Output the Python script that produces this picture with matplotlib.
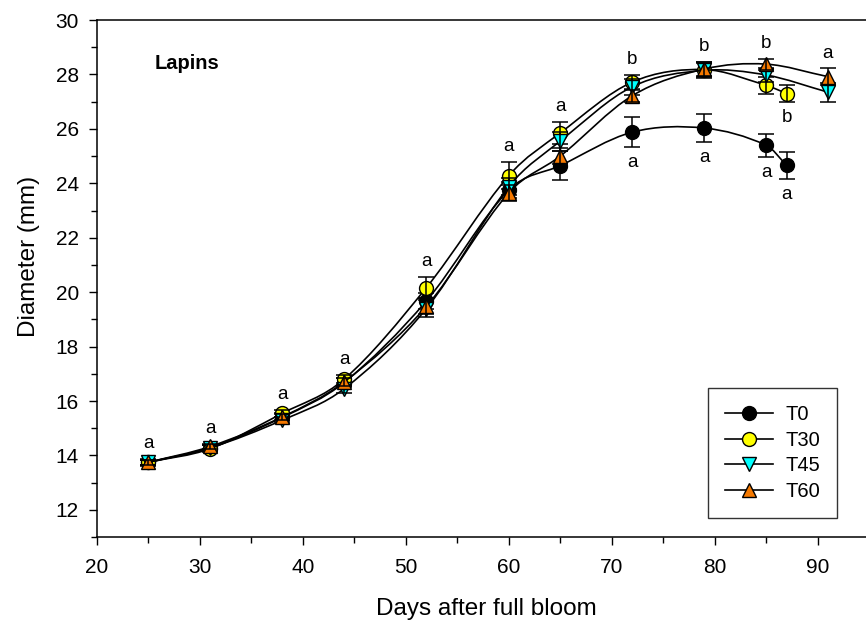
import matplotlib
matplotlib.use("Agg")
import matplotlib.pyplot as plt
from matplotlib.path import Path
from matplotlib.patches import PathPatch
from matplotlib.ticker import MultipleLocator

plt.rcParams["font.family"] = ["Liberation Sans", "DejaVu Sans"]

# ---- data ----
days_a = [25, 31, 38, 44, 52, 60, 65, 72, 79, 85, 87]   # T0, T30
days_b = [25, 31, 38, 44, 52, 60, 65, 72, 79, 85, 91]   # T45, T60

t0_mean = [13.75, 14.28, 15.40, 16.68, 19.68, 23.75, 24.65, 25.88, 26.03, 25.40, 24.66]
t0_err = [0.12, 0.12, 0.15, 0.15, 0.30, 0.30, 0.53, 0.55, 0.50, 0.42, 0.50]
t30_mean = [13.75, 14.25, 15.55, 16.80, 20.17, 24.28, 25.85, 27.72, 28.18, 27.60, 27.30]
t30_err = [0.10, 0.12, 0.12, 0.15, 0.40, 0.50, 0.40, 0.25, 0.27, 0.30, 0.33]
t45_mean = [13.75, 14.28, 15.30, 16.45, 19.40, 23.88, 25.55, 27.55, 28.15, 27.98, 27.35]
t45_err = [0.10, 0.10, 0.12, 0.15, 0.30, 0.30, 0.35, 0.30, 0.27, 0.25, 0.35]
t60_mean = [13.75, 14.33, 15.42, 16.70, 19.48, 23.65, 25.00, 27.22, 28.20, 28.38, 27.92]
t60_err = [0.10, 0.10, 0.12, 0.15, 0.30, 0.30, 0.30, 0.22, 0.25, 0.20, 0.30]

# significance letters: above each date group, and below T0 (and T30 at day 87)
top_days = [25, 31, 38, 44, 52, 60, 65, 72, 79, 85, 91]
top_letters = ["a", "a", "a", "a", "a", "a", "a", "b", "b", "b", "a"]
low_t0_days = [72, 79, 85, 87]
low_t0_letters = ["a", "a", "a", "a"]
low_t30_days = [87]
low_t30_letters = ["b"]

series = [
    ("T0", days_a, t0_mean, t0_err, "o", "black"),
    ("T30", days_a, t30_mean, t30_err, "o", "#ffff00"),
    ("T45", days_b, t45_mean, t45_err, "v", "#00ffff"),
    ("T60", days_b, t60_mean, t60_err, "^", "#f57900"),
]


def smooth_path(xs, ys):
    # cubic hermite through the means, written as bezier segments
    n = len(xs)
    m = []
    for i in range(n):
        if i == 0:
            m.append((ys[1] - ys[0]) / (xs[1] - xs[0]))
        elif i == n - 1:
            m.append((ys[-1] - ys[-2]) / (xs[-1] - xs[-2]))
        else:
            m.append((ys[i + 1] - ys[i - 1]) / (xs[i + 1] - xs[i - 1]))
    verts, codes = [(xs[0], ys[0])], [Path.MOVETO]
    for i in range(n - 1):
        h = xs[i + 1] - xs[i]
        verts += [(xs[i] + h / 3, ys[i] + m[i] * h / 3),
                  (xs[i + 1] - h / 3, ys[i + 1] - m[i + 1] * h / 3),
                  (xs[i + 1], ys[i + 1])]
        codes += [Path.CURVE4] * 3
    return Path(verts, codes)


fig = plt.figure(figsize=(8.66, 6.26), dpi=100)
ax = fig.add_axes([0.112, 0.142, 0.888, 0.826])

for k, (name, xs, ys, es, mk, col) in enumerate(series):
    z = 3 + k
    ax.add_patch(PathPatch(smooth_path(xs, ys), fill=False, lw=1.2, ec="black", zorder=z))
    ax.plot(xs, ys, ls="none", marker=mk, ms=10, mfc=col, mec="black", mew=1, zorder=z + 0.2)
    ax.errorbar(xs, ys, yerr=es, fmt="none", ecolor="black", elinewidth=1.1, capsize=6,
                capthick=1.1, zorder=z + 0.3)

handles = [plt.Line2D([], [], color="black", lw=1.2, marker=mk, ms=10, mfc=col, mec="black", mew=1)
           for _, _, _, _, mk, col in series]
leg = ax.legend(handles, [s[0] for s in series], loc="lower right", bbox_to_anchor=(0.9623, 0.0368),
                borderaxespad=0, fontsize=14.5, frameon=True, fancybox=False, edgecolor="black",
                handlelength=2.4, borderpad=0.85, labelspacing=0.33, handletextpad=0.6)
leg.get_frame().set_linewidth(1.0)
leg.set_zorder(20)


def group_top(d):
    vals = []
    for _, xs, ys, es, _, _ in series:
        if d in xs:
            i = xs.index(d)
            vals.append(ys[i] + es[i])
    return max(vals)


for d, t in zip(top_days, top_letters):
    ax.annotate(t, (d, group_top(d)), xytext=(0, 5), textcoords="offset points",
                ha="center", va="bottom", fontsize=13.5)
for d, t in zip(low_t0_days, low_t0_letters):
    i = days_a.index(d)
    ax.annotate(t, (d, t0_mean[i] - t0_err[i]), xytext=(0, -5), textcoords="offset points",
                ha="center", va="top", fontsize=13.5)
for d, t in zip(low_t30_days, low_t30_letters):
    i = days_a.index(d)
    ax.annotate(t, (d, t30_mean[i] - t30_err[i]), xytext=(0, -5), textcoords="offset points",
                ha="center", va="top", fontsize=13.5)

ax.text(0.075, 0.915, "Lapins", transform=ax.transAxes, fontsize=14.5, fontweight="bold",
        ha="left", va="center")

ax.set_xlim(20, 94.7)
ax.set_ylim(11, 30)
ax.xaxis.set_major_locator(MultipleLocator(10))
ax.xaxis.set_minor_locator(MultipleLocator(5))
ax.yaxis.set_major_locator(MultipleLocator(2))
ax.yaxis.set_minor_locator(MultipleLocator(1))
ax.tick_params(which="major", direction="out", length=6, width=1, labelsize=15)
ax.tick_params(which="minor", direction="out", length=4, width=1)
ax.tick_params(axis="x", pad=9)
ax.tick_params(axis="y", pad=7)
ax.spines["right"].set_visible(False)
for s in ["left", "bottom", "top"]:
    ax.spines[s].set_linewidth(1.1)

ax.set_xlabel("Days after full bloom", fontsize=17.5)
ax.set_ylabel("Diameter (mm)", fontsize=17.5)
ax.xaxis.set_label_coords(0.506, -0.118)
ax.yaxis.set_label_coords(-0.074, 0.543)

fig.savefig("out.png", dpi=100)
